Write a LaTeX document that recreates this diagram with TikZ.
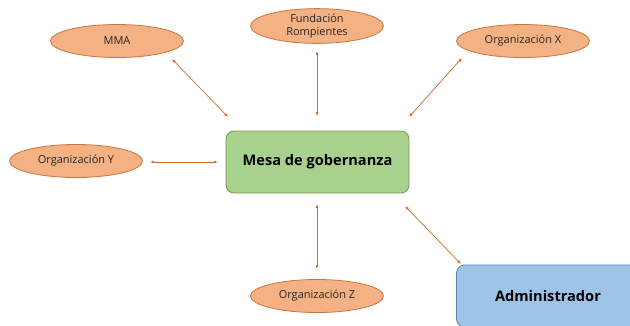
\documentclass[tikz,border=0pt]{standalone}
\usepackage{fontspec}
\setmainfont{Open Sans}
\usetikzlibrary{shapes.geometric,arrows.meta}
\definecolor{ellfill}{HTML}{F4B183}
\definecolor{elldraw}{HTML}{C8763E}
\definecolor{arr}{HTML}{D0692A}
\definecolor{greenfill}{HTML}{A9D18E}
\definecolor{greendraw}{HTML}{6E9C4E}
\definecolor{bluefill}{HTML}{9DC3E6}
\definecolor{bluedraw}{HTML}{5B86B0}
\tikzset{
  org/.style={ellipse, draw=elldraw, fill=ellfill, line width=0.8pt, minimum width=133pt, minimum height=33pt, inner sep=0pt, font=\fontsize{11}{13.5}\selectfont, align=center, text=black!85},
  mainbox/.style={draw=greendraw, fill=greenfill, rounded corners=8pt, line width=0.8pt, minimum width=183pt, minimum height=62pt, font=\fontsize{14.6}{16}\selectfont\bfseries},
  adminbox/.style={draw=bluedraw, fill=bluefill, rounded corners=8pt, line width=0.8pt, minimum width=183pt, minimum height=62pt, font=\fontsize{14.6}{16}\selectfont\bfseries},
  link/.style={draw=arr, line width=0.7pt, {Latex[length=4pt,width=3pt]}-{Latex[length=4pt,width=3pt]}}
}
\begin{document}
\begin{tikzpicture}[x=1pt,y=-1pt]
\useasboundingbox (0,0) rectangle (630,325);
\clip (0,0) rectangle (630,325);
\node[org] (mma) at (117,41) {MMA};
\node[org] (fund) at (317,26) {Fundación\\Rompientes};
\node[org] (orgx) at (523,41) {Organización X};
\node[org] (orgy) at (76,161) {Organización Y};
\node[org] (orgz) at (317,296) {Organización Z};
\node[mainbox] (mesa) at (317.5,162) {Mesa de gobernanza};
\node[adminbox] (admin) at (548,296) {Administrador};
% connector end points
\coordinate (mmaA) at (172,59);   \coordinate (mmaB) at (228,117);
\coordinate (fundA) at (317,51);  \coordinate (fundB) at (317,116);
\coordinate (orgxA) at (462,58);  \coordinate (orgxB) at (409,117);
\coordinate (orgyA) at (150,162); \coordinate (orgyB) at (218,162);
\coordinate (orgzA) at (317,204); \coordinate (orgzB) at (317,269);
\coordinate (admA) at (405,206);  \coordinate (admB) at (461,264);
\draw[link] (mmaA) -- (mmaB);
\draw[link] (fundA) -- (fundB);
\draw[link] (orgxA) -- (orgxB);
\draw[link] (orgyA) -- (orgyB);
\draw[link] (orgzA) -- (orgzB);
\draw[link] (admA) -- (admB);
\end{tikzpicture}
\end{document}
